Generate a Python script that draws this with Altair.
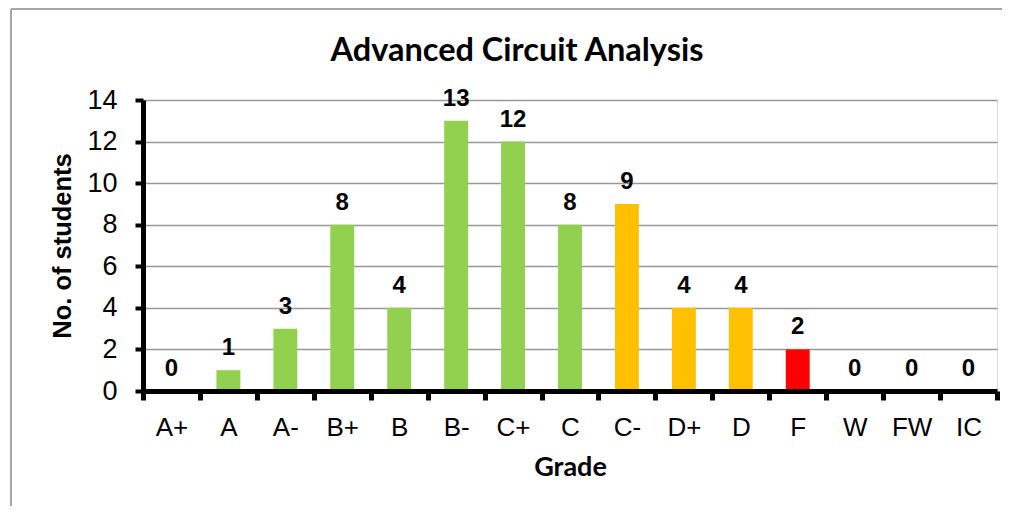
import altair as alt
import pandas as pd

grades = ["A+", "A", "A-", "B+", "B", "B-", "C+", "C", "C-", "D+", "D", "F", "W", "FW", "IC"]
counts = [0, 1, 3, 8, 4, 13, 12, 8, 9, 4, 4, 2, 0, 0, 0]
groups = ["good"] * 8 + ["weak"] * 3 + ["fail"] * 4
y_ticks = [0, 2, 4, 6, 8, 10, 12, 14]

group_names = ["good", "weak", "fail"]
group_colors = ["#92D050", "#FFC000", "#FF0000"]

df = pd.DataFrame({"grade": grades, "count": counts, "group": groups})

W, H = 854, 291
AX_FONT = "Liberation Sans"
FRAME_TOP = -91
FRAME_LEFT = -132

x_enc = alt.X(
    "grade:N",
    sort=grades,
    scale=alt.Scale(paddingInner=0, paddingOuter=0),
    axis=alt.Axis(
        title="Grade",
        labelAngle=0,
        tickBand="extent",
        domainColor="black",
        domainWidth=5,
        tickColor="black",
        tickWidth=5,
        tickSize=9,
        labelFont=AX_FONT,
        labelFontSize=26,
        labelColor="black",
        labelPadding=14,
        titleFont="Lato",
        titleFontSize=27,
        titleFontWeight="bold",
        titleColor="black",
        titleX=W / 2,
        titleY=84,
        titleBaseline="alphabetic",
        zindex=1,
    ),
)

y_enc = alt.Y(
    "count:Q",
    scale=alt.Scale(domain=[0, 14], nice=False),
    axis=alt.Axis(
        values=y_ticks,
        title="No. of students",
        grid=True,
        gridColor="#999999",
        gridWidth=1.5,
        domainColor="black",
        domainWidth=5,
        tickColor="black",
        tickWidth=4,
        tickSize=8,
        labelFont=AX_FONT,
        labelFontSize=27,
        labelColor="black",
        labelPadding=18,
        titleFont=AX_FONT,
        titleFontSize=25.5,
        titleFontWeight="bold",
        titleColor="black",
        titleAngle=270,
        titleX=-73,
        titleY=H / 2,
        titleBaseline="alphabetic",
        titleAlign="center",
    ),
)

bars = alt.Chart(df).mark_bar(width=alt.RelativeBandSize(0.42)).encode(
    x=x_enc,
    y=y_enc,
    color=alt.Color(
        "group:N",
        scale=alt.Scale(domain=group_names, range=group_colors),
        legend=None,
    ),
)

labels = alt.Chart(df).mark_text(
    font=AX_FONT,
    fontWeight="bold",
    fontSize=24,
    baseline="alphabetic",
    dy=-15,
    color="black",
).encode(
    x=alt.X("grade:N", sort=grades),
    y=alt.Y("count:Q"),
    text=alt.Text("count:Q"),
)

one = pd.DataFrame({"f": [0]})
frame_top = alt.Chart(one).mark_rule(stroke="#a6a6a6", strokeWidth=2).encode(
    x=alt.value(FRAME_LEFT), x2=alt.value(W + 20), y=alt.value(FRAME_TOP),
)
frame_left = alt.Chart(one).mark_rule(stroke="#a6a6a6", strokeWidth=2).encode(
    x=alt.value(FRAME_LEFT), y=alt.value(FRAME_TOP), y2=alt.value(H + 200),
)

chart = alt.layer(frame_top, frame_left, bars, labels).properties(
    width=W,
    height=H,
    title=alt.TitleParams(
        "Advanced Circuit Analysis",
        font="Lato",
        fontSize=32.5,
        fontWeight="bold",
        color="black",
        anchor="middle",
        dx=-53,
        offset=-85,
        baseline="alphabetic",
    ),
    autosize=alt.AutoSizeParams(type="none"),
    padding={"left": 135, "top": 92, "right": 5, "bottom": 115},
).configure_view(stroke=None).configure(background="white")

chart.save("out.html", embed_options={"renderer": "svg", "actions": False})
